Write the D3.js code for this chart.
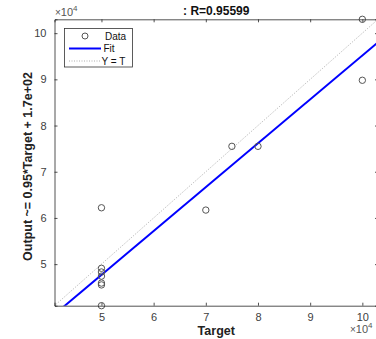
<!DOCTYPE html>
<html><head><meta charset="utf-8">
<script src="https://cdn.jsdelivr.net/npm/d3@7"></script>
<style>
body{margin:0;background:#fff;}
svg{display:block;font-family:"Liberation Sans",Arial,sans-serif;}
</style></head>
<body><svg id="c" width="376" height="339"></svg>
<script>
// Data (units of 1e4)
const targets = [10, 10, 7.5, 8, 7, 5, 5, 5, 5, 5, 5, 5];
const outputs = [10.3, 8.98, 7.55, 7.55, 6.17, 6.22, 4.91, 4.83, 4.74, 4.59, 4.55, 4.10];
const fitSlope = 0.95, fitIntercept = 0.017;
const xTicks = [5, 6, 7, 8, 9, 10];
const yTicks = [5, 6, 7, 8, 9, 10];
const domainX = [4.1, 10.3], domainY = [4.1, 10.3];
const titleText = ": R=0.95599";
const xLabel = "Target";
const yLabel = "Output ~= 0.95*Target + 1.7e+02";
const legendItems = ["Data", "Fit", "Y = T"];

const svg = d3.select("#c");
const L = 54.5, R = 378, T = 19.3, B = 305.7;
const x = d3.scaleLinear().domain(domainX).range([L, R]);
const y = d3.scaleLinear().domain(domainY).range([B, T]);

const defs = svg.append("defs");
defs.append("clipPath").attr("id","clip").append("rect")
  .attr("x",L).attr("y",T).attr("width",R-L).attr("height",B-T);

const axCol = "#262626", tickCol = "#404040";
// Y=T line
svg.append("line").attr("clip-path","url(#clip)")
  .attr("x1",x(domainX[0])).attr("y1",y(domainX[0]))
  .attr("x2",x(domainX[1])).attr("y2",y(domainX[1]))
  .attr("stroke","#9a9a9a").attr("stroke-width",0.8).attr("stroke-dasharray","1,1.5");
// Fit line
svg.append("line").attr("clip-path","url(#clip)")
  .attr("x1",x(domainX[0])).attr("y1",y(fitSlope*domainX[0]+fitIntercept))
  .attr("x2",x(domainX[1])).attr("y2",y(fitSlope*domainX[1]+fitIntercept))
  .attr("stroke","#0000ff").attr("stroke-width",2);
// data
svg.append("g").selectAll("circle").data(targets).join("circle")
  .attr("cx",(d)=>x(d)).attr("cy",(d,i)=>y(outputs[i])).attr("r",3.2)
  .attr("fill","none").attr("stroke","#555").attr("stroke-width",1);

// axes box
const gx = svg.append("g").attr("transform",`translate(0,${B})`)
  .call(d3.axisBottom(x).tickValues(xTicks).tickSize(-3).tickPadding(8).tickFormat(d3.format("d")));
const gxt = svg.append("g").attr("transform",`translate(0,${T})`)
  .call(d3.axisTop(x).tickValues(xTicks).tickSize(-3).tickFormat(""));
const gy = svg.append("g").attr("transform",`translate(${L},0)`)
  .call(d3.axisLeft(y).tickValues(yTicks).tickSize(-3).tickPadding(8).tickFormat(d3.format("d")));
const gyr = svg.append("g").attr("transform",`translate(${R},0)`)
  .call(d3.axisRight(y).tickValues(yTicks).tickSize(-3).tickFormat(""));
[gx,gxt,gy,gyr].forEach(g=>{
  g.select(".domain").attr("stroke",axCol).attr("stroke-width",0.8);
  g.selectAll(".tick line").attr("stroke",axCol).attr("stroke-width",0.8);
  g.selectAll(".tick text").attr("fill",tickCol).attr("font-size",11).attr("font-family","Liberation Sans, Arial, sans-serif");
});

// exponent labels
function expLabel(xp, yp){
  const t = svg.append("text").attr("x",xp).attr("y",yp).attr("fill","#555").attr("font-size",11);
  t.append("tspan").text("\u00d7").attr("font-size",10);
  t.append("tspan").text("10");
  t.append("tspan").text("4").attr("font-size",8).attr("dy",-5);
}
expLabel(55, 16);
expLabel(350, 333);

// title & labels
svg.append("text").attr("x",(L+R)/2).attr("y",15).attr("text-anchor","middle")
  .attr("font-weight","bold").attr("font-size",12).attr("fill","#111").text(titleText);
svg.append("text").attr("x",(L+R)/2).attr("y",335).attr("text-anchor","middle")
  .attr("font-weight","bold").attr("font-size",12.5).attr("fill","#222").text(xLabel);
svg.append("text").attr("transform",`translate(31.5,${(T+B)/2 + 4}) rotate(-90)`).attr("text-anchor","middle")
  .attr("font-weight","bold").attr("font-size",12.5).attr("fill","#222").text(yLabel);

// legend
const lg = svg.append("g");
lg.append("rect").attr("x",64.5).attr("y",28.5).attr("width",68).attr("height",38.5)
  .attr("fill","#fff").attr("stroke","#333").attr("stroke-width",0.8);
const ly = [36, 48.5, 61];
lg.append("circle").attr("cx",85).attr("cy",ly[0]).attr("r",3).attr("fill","none").attr("stroke","#555");
lg.append("line").attr("x1",69).attr("x2",101).attr("y1",ly[1]).attr("y2",ly[1]).attr("stroke","#0000ff").attr("stroke-width",2);
lg.append("line").attr("x1",69).attr("x2",101).attr("y1",ly[2]).attr("y2",ly[2]).attr("stroke","#9a9a9a").attr("stroke-width",0.8).attr("stroke-dasharray","1,1.5");
lg.selectAll("text.l").data(legendItems).join("text").attr("class","l")
  .attr("x",(d,i)=> i===0 ? 105 : (i===1 ? 103.5 : 101.5)).attr("y",(d,i)=>ly[i]+3.5).attr("font-size",10).attr("fill","#111").text(d=>d);
</script></body></html>
